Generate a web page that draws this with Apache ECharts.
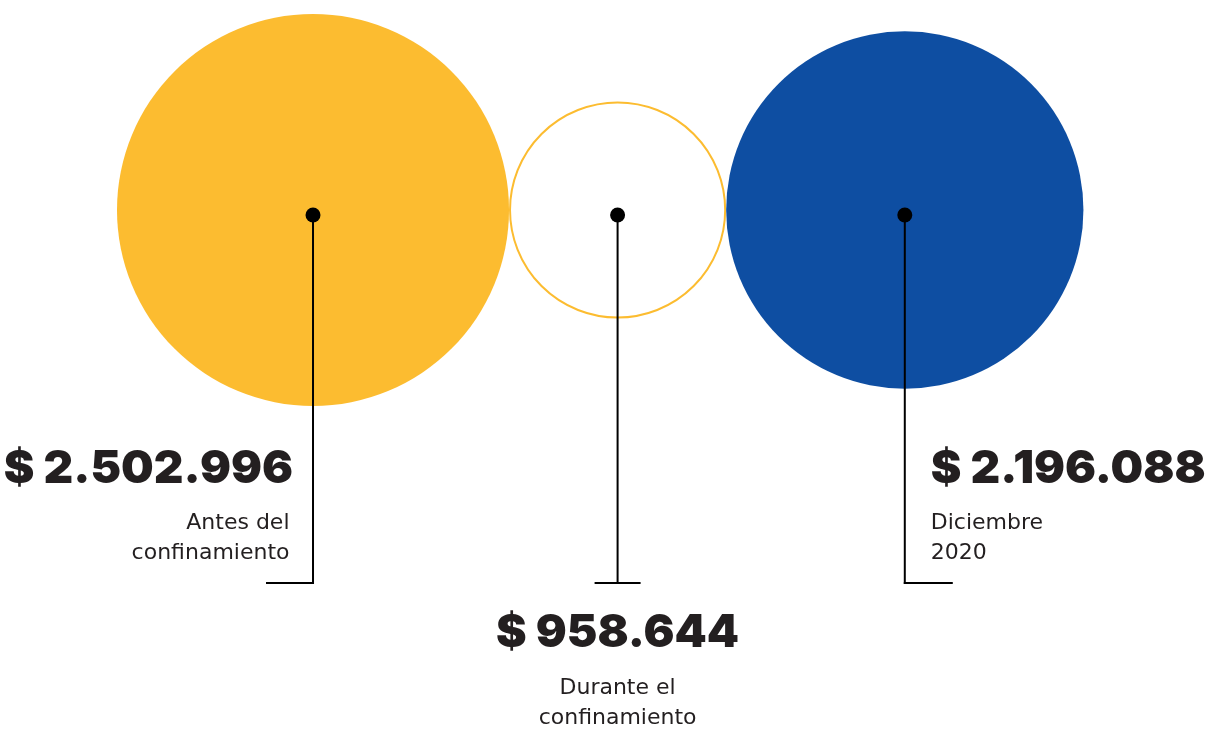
<!DOCTYPE html>
<html><head><meta charset="utf-8">
<script src="https://cdn.jsdelivr.net/npm/echarts@6/dist/echarts.min.js"></script>
<style>html,body{margin:0;padding:0;background:#fff}#chart{width:1214px;height:731px}</style>
</head><body><div id="chart"></div>
<script>
// ---- data ----
const categories = ['Antes del\nconfinamiento', 'Durante el\nconfinamiento', 'Diciembre\n2020'];
const values = [2502996, 958644, 2196088];

// ---- styles / layout ----
const YELLOW = '#FCBC30', BLUE = '#0E4EA2', INK = '#231F20';
const fills = [YELLOW, 'none', BLUE];
const strokes = [null, YELLOW, null];
const PACK_LEFT = 117, CIRCLE_Y = 210, DOT_Y = 215, FOOT_Y = 583, FOOT_LEN = 47;
const VALUE_FONT = '900 46px Inter';
const CAT_FONT = '400 22px "DejaVu Sans"';

function fmt(v) { return '$ ' + String(v).replace(/\B(?=(\d{3})+(?!\d))/g, '.'); }
function radius(v) { return echarts.number.linearMap(v, [0, 2600000], [54.3, 201.5]); }
function centers() {
  let x = PACK_LEFT;
  return values.map(v => { const r = radius(v); const c = x + r; x += 2 * r; return c; });
}

const chart = echarts.init(document.getElementById('chart'), null, { renderer: 'canvas' });
chart.setOption({
  backgroundColor: '#ffffff',
  animation: false,
  series: [{
    type: 'custom',
    coordinateSystem: 'none',
    data: values.map((v, i) => [i, v]),
    renderItem: function (params, api) {
      const i = params.dataIndex;
      const v = api.value(1);
      const r = radius(v);
      const cx = centers()[i];
      const n = values.length;
      const side = i === 0 ? 'left' : (i === n - 1 ? 'right' : 'center');
      const children = [];
      if (strokes[i]) {
        children.push({ type: 'circle', shape: { cx: cx, cy: CIRCLE_Y, r: r - 1 }, style: { fill: 'none', stroke: strokes[i], lineWidth: 2 } });
      } else {
        children.push({ type: 'circle', shape: { cx: cx, cy: CIRCLE_Y, r: r }, style: { fill: fills[i] } });
      }
      children.push({ type: 'line', shape: { x1: cx, y1: DOT_Y, x2: cx, y2: FOOT_Y + 1 }, style: { stroke: '#000', lineWidth: 2 } });
      let fx1, fx2;
      if (side === 'left') { fx1 = cx - FOOT_LEN; fx2 = cx + 1; }
      else if (side === 'right') { fx1 = cx - 1; fx2 = cx + FOOT_LEN + 1; }
      else { fx1 = cx - 23; fx2 = cx + 23; }
      children.push({ type: 'line', shape: { x1: fx1, y1: FOOT_Y, x2: fx2, y2: FOOT_Y }, style: { stroke: '#000', lineWidth: 2 } });
      children.push({ type: 'circle', shape: { cx: cx, cy: DOT_Y, r: 7.5 }, style: { fill: '#000' } });

      let vx, vy, cxText, cy, align;
      if (side === 'left') { vx = cx - 20; vy = 469; cxText = cx - 23.5; cy = 508; align = 'right'; }
      else if (side === 'right') { vx = cx + 26; vy = 469; cxText = cx + 26; cy = 508; align = 'left'; }
      else { vx = cx; vy = 633; cxText = cx; cy = 673; align = 'center'; }
      children.push({ type: 'text', style: { text: fmt(v), x: vx, y: vy, align: align, verticalAlign: 'middle', font: VALUE_FONT, fill: INK } });
      children.push({ type: 'text', style: { text: categories[i], x: cxText, y: cy, align: align, verticalAlign: 'top', font: CAT_FONT, lineHeight: 30, fill: INK } });
      return { type: 'group', children: children };
    }
  }]
});
</script>
</body></html>
